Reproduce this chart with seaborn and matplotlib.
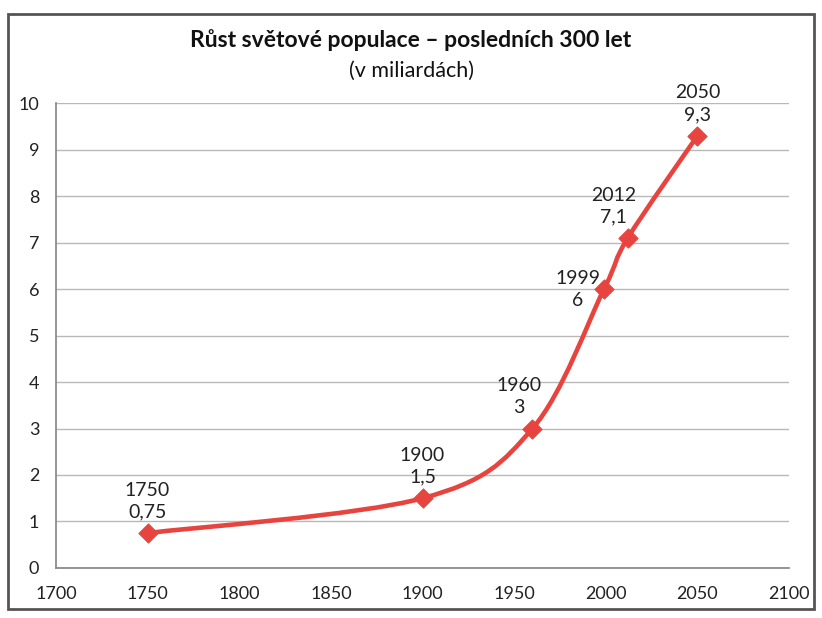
import numpy as np
import pandas as pd
import matplotlib
matplotlib.use("Agg")
import matplotlib.pyplot as plt
from matplotlib.path import Path
from matplotlib.patches import PathPatch, Rectangle
import seaborn as sns

# data
years = [1750, 1900, 1960, 1999, 2012, 2050]
population = [0.75, 1.5, 3, 6, 7.1, 9.3]
valueLabels = ["0,75", "1,5", "3", "6", "7,1", "9,3"]
xTicks = [1700, 1750, 1800, 1850, 1900, 1950, 2000, 2050, 2100]
yTicks = list(range(0, 11))

# label offsets (points) for each data label
labelOffsets = [(0, 9), (0, 9), (-10, 9), (-19, 0), (-10, 9), (0, 9)]
labelAlign = ["bottom", "bottom", "bottom", "center", "bottom", "bottom"]

lineColor = "#E8443F"

sns.set_theme(style="white")
plt.rcParams['font.family'] = ['Lato', 'DejaVu Sans']

df = pd.DataFrame({"year": years, "pop": population})

fig = plt.figure(figsize=(8.22, 6.18), dpi=100)
ax = fig.add_axes([0.068, 0.081, 0.892, 0.752])

# Excel-like smoothed line: cubic bezier between points (Catmull-Rom style)
pts = np.column_stack([df["year"].values, df["pop"].values]).astype(float)
verts = [tuple(pts[0])]
codes = [Path.MOVETO]
for i in range(len(pts) - 1):
    p0 = pts[i - 1] if i > 0 else pts[i]
    p1 = pts[i]
    p2 = pts[i + 1]
    p3 = pts[i + 2] if i + 2 < len(pts) else pts[i + 1]
    c1 = p1 + (p2 - p0) / 6.0
    c2 = p2 - (p3 - p1) / 6.0
    verts += [tuple(c1), tuple(c2), tuple(p2)]
    codes += [Path.CURVE4, Path.CURVE4, Path.CURVE4]
ax.add_patch(PathPatch(Path(verts, codes), fill=False, edgecolor=lineColor,
                       linewidth=3.3, zorder=3, capstyle="round"))

sns.scatterplot(data=df, x="year", y="pop", marker="D", s=95, color=lineColor,
                edgecolor=lineColor, ax=ax, zorder=4, legend=False)

for i in range(len(years)):
    ax.annotate(f"{years[i]}\n{valueLabels[i]}", (years[i], population[i]),
                xytext=labelOffsets[i], textcoords="offset points",
                ha="center", va=labelAlign[i], fontsize=14,
                color="#222222", linespacing=1.35, zorder=5)

ax.set_xlim(1700, 2100)
ax.set_ylim(0, 10)
ax.set_xticks(xTicks)
ax.set_yticks(yTicks)
ax.tick_params(axis="both", labelsize=13, colors="#222222", length=4,
               color="#888888", direction="out")
ax.tick_params(axis="x", pad=9)
ax.tick_params(axis="y", pad=8)
ax.grid(axis="y", color="#B8B8B8", linewidth=1)
ax.set_axisbelow(True)
for side in ["top", "right"]:
    ax.spines[side].set_visible(False)
for side in ["left", "bottom"]:
    ax.spines[side].set_color("#888888")
ax.set_xlabel("")
ax.set_ylabel("")

fig.text(0.5, 0.935, "Růst světové populace – posledních 300 let",
         ha="center", va="center", fontsize=16.5, fontweight="bold", color="#111111")
fig.text(0.5, 0.886, "(v miliardách)", ha="center", va="center",
         fontsize=15.5, color="#111111")

# outer chart border
fig.patches.append(Rectangle((0.01, 0.015), 0.98, 0.962, transform=fig.transFigure,
                             fill=False, edgecolor="#555555", linewidth=2))

fig.savefig("out.png", dpi=100)
